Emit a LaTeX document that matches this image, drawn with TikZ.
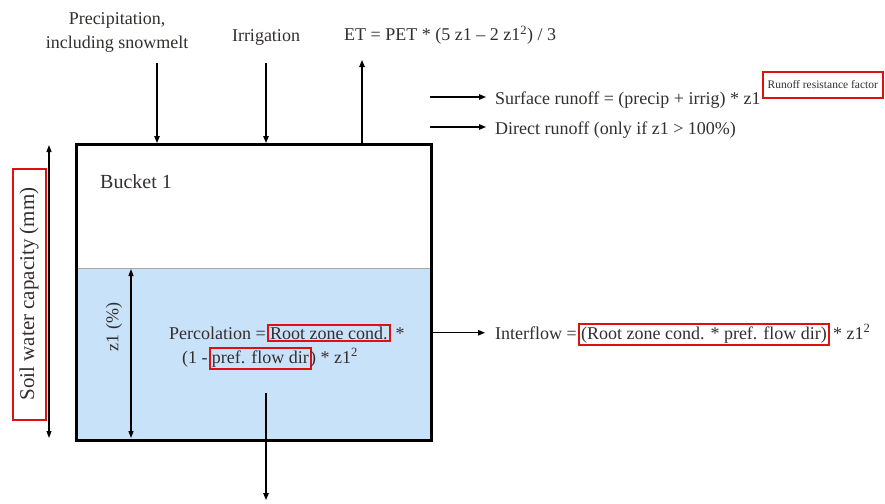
\documentclass[tikz,border=0pt]{standalone}
\usepackage{fontspec}
\setmainfont{Liberation Serif}
\usepackage{tikz}
\usetikzlibrary{positioning, arrows.meta}
\definecolor{waterblue}{RGB}{200,226,249}
\definecolor{boxred}{RGB}{222,16,16}
\definecolor{inkgray}{RGB}{52,46,46}

\begin{document}
\begin{tikzpicture}[
  x=1pt, y=-1pt,
  every node/.style={font=\fontsize{18}{24}\selectfont, text=inkgray, inner sep=0pt},
  hl/.style={draw=boxred, line width=2pt, inner sep=2pt},
  tiny/.style={font=\fontsize{11.5}{12}\selectfont},
  flow/.style={-{Triangle[length=7pt,width=5.5pt]}, line width=1.1pt, black},
  dimline/.style={{Triangle[length=7pt,width=5pt]}-{Triangle[length=7pt,width=5pt]}, line width=1.1pt, black},
]
\useasboundingbox (0,0) rectangle (885,503);

% Bucket
\fill[waterblue] (75,268) rectangle (430,439);
\draw[gray!70, thin] (75,268) -- (430,268);
\node[draw=black, line width=3pt, minimum width=355pt, minimum height=296pt,
  anchor=north west] (bkt) at (75,143) {};
\node[anchor=base west, font=\fontsize{20}{24}\selectfont] (bname) at (100,188) {Bucket 1};

% Inflows and ET
\node[align=center] (precip) at (117,32) {Precipitation,\\including snowmelt};
\node (irrig) at (266,37) {Irrigation};
\node[anchor=west] (et) at (344,35) {ET = PET * (5 z1 -- 2 z1\textsuperscript{2}) / 3};
\coordinate (precipIn) at (157,63);
\coordinate (irrigIn) at (266,63);
\coordinate (etOut) at (362,60);
\draw[flow] (precipIn) -- (precipIn |- bkt.north);
\draw[flow] (irrigIn) -- (irrigIn |- bkt.north);
\draw[flow] (etOut |- bkt.north) -- (etOut);

% Runoff
\node[anchor=base west] (surf) at (495,104) {Surface runoff = (precip + irrig) * z1};
\node[hl, tiny, anchor=north west, minimum width=120pt, minimum height=26pt] (rrf)
  at ([xshift=1pt, yshift=33pt]surf.base east) {Runoff resistance factor};
\node[anchor=base west] (direct) at (495,134) {Direct runoff (only if z1 > 100\%)};
\coordinate (surfStart) at (430,97);
\coordinate (directStart) at (430,127);
\draw[flow] (surfStart) -- ([xshift=-9pt]surfStart -| surf.west);
\draw[flow] (directStart) -- ([xshift=-9pt]directStart -| direct.west);

% Dimensions
\coordinate (soilTop) at (49,145);
\coordinate (soilBot) at (49,438);
\draw[dimline] (soilTop) -- (soilBot);
\node[hl, rotate=90, minimum width=251pt, minimum height=33pt] (soil) at (29,294)
  {\fontsize{21}{24}\selectfont Soil water capacity (mm)};
\coordinate (zTop) at (131,269);
\coordinate (zBot) at (131,438);
\draw[dimline] (zTop) -- (zBot);
\node[rotate=90] (zlbl) at (114,327) {z1 (\%)};

% Percolation
\node[anchor=base west] (percA) at (169,339) {Percolation =};
\node[hl, anchor=base west] (rzc) at ([xshift=1pt]percA.base east) {Root zone cond.};
\node[anchor=base west] (percB) at ([xshift=5pt]rzc.base east) {*};
\node[anchor=base west] (percC) at (182,363) {(1 -};
\node[hl, anchor=base west] (pfd) at ([xshift=1pt]percC.base east) {pref. flow dir};
\node[anchor=base west] (percD) at ([xshift=-2pt]pfd.base east) {) * z1\textsuperscript{2}};
\coordinate (percTop) at (266,393);
\coordinate (percOut) at (266,500);
\draw[flow] (percTop) -- (percOut);

% Interflow
\node[anchor=base west] (intA) at (495,339) {Interflow =};
\node[hl, anchor=base west] (intB) at ([xshift=1pt]intA.base east) {(Root zone cond. * pref. flow dir)};
\node[anchor=base west] (intC) at ([xshift=3pt]intB.base east) {* z1\textsuperscript{2}};
\draw[flow] (bkt.east |- intA.west) -- ([xshift=-10pt]intA.west);

\end{tikzpicture}
\end{document}
